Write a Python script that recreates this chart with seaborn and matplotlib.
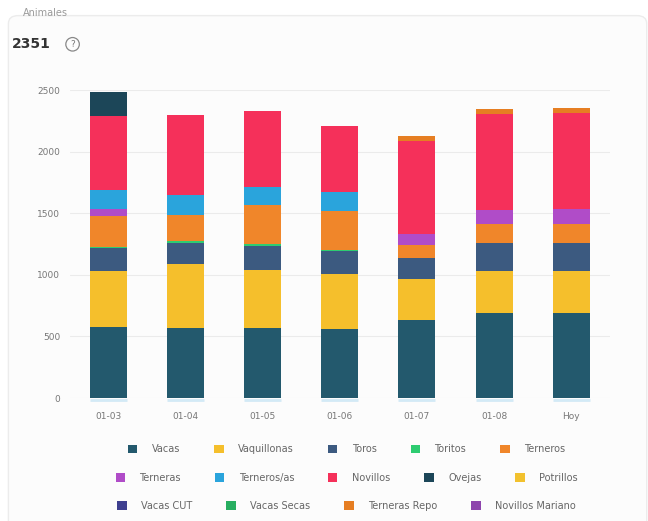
import numpy as np
import matplotlib
matplotlib.use("Agg")
import matplotlib.pyplot as plt
from matplotlib.patches import FancyBboxPatch
import seaborn as sns

sns.set_style("white")
plt.rcParams['font.family'] = ['DejaVu Sans']

dates = ["01-03", "01-04", "01-05", "01-06", "01-07", "01-08", "Hoy"]
series = ["Vacas", "Vaquillonas", "Toros", "Toritos", "Terneros",
          "Terneras", "Terneros/as", "Novillos", "Ovejas", "Potrillos",
          "Vacas CUT", "Vacas Secas", "Terneras Repo", "Novillos Mariano"]
colors = ["#23596d", "#f5bf2c", "#3c5a80", "#2ecc71", "#f0862a",
          "#b04cc8", "#2aa4dc", "#f5305a", "#1c4658", "#f2c12e",
          "#3e3f8f", "#27ae60", "#e67e22", "#8e44ad"]

vacas = [580, 570, 565, 560, 630, 690, 691]
vaquillonas = [450, 515, 475, 450, 335, 340, 340]
toros = [185, 175, 195, 180, 170, 225, 225]
toritos = [12, 12, 12, 12, 0, 0, 0]
terneros = [248, 213, 318, 313, 110, 155, 155]
terneras = [60, 0, 0, 0, 90, 120, 120]
terneros_as = [155, 160, 150, 160, 0, 0, 0]
novillos = [600, 655, 615, 530, 755, 780, 780]
ovejas = [195, 0, 0, 0, 0, 0, 0]
potrillos = [0, 0, 0, 0, 0, 0, 0]
vacas_cut = [0, 0, 0, 0, 0, 0, 0]
vacas_secas = [0, 0, 0, 0, 0, 0, 0]
terneras_repo = [0, 0, 0, 0, 40, 40, 40]
novillos_mariano = [0, 0, 0, 0, 0, 0, 0]

values = [vacas, vaquillonas, toros, toritos, terneros, terneras, terneros_as,
          novillos, ovejas, potrillos, vacas_cut, vacas_secas, terneras_repo,
          novillos_mariano]

bar_w = 0.48

fig = plt.figure(figsize=(6.48, 5.21), dpi=100)
fig.patch.set_facecolor("white")

# card background
card = FancyBboxPatch((0.013, -0.02), 0.985, 0.99, boxstyle="round,pad=0,rounding_size=0.015",
                      transform=fig.transFigure, facecolor="#fcfcfc", edgecolor="#ececec",
                      linewidth=1, zorder=-5)
fig.patches.append(card)

ax = fig.add_axes([0.108, 0.236, 0.833, 0.591])
ax.set_facecolor("none")
ax.set_zorder(2)

bottom = np.zeros(len(dates))
for name, vals, col in zip(series, values, colors):
    sns.barplot(x=dates, y=vals, bottom=bottom, color=col, saturation=1,
                width=bar_w, errorbar=None, ax=ax, linewidth=0, zorder=3)
    bottom += np.array(vals)

# light blue strip under each bar
pos = np.arange(len(dates))
ax.hlines([-12] * len(dates), pos - bar_w / 2, pos + bar_w / 2, color="#d3eaf6",
          linewidth=2, clip_on=False, zorder=2)

ax.set_xlim(-0.5, 6.5)
ax.set_ylim(0, 2500)
ax.set_yticks([0, 500, 1000, 1500, 2000, 2500])
ax.yaxis.grid(True, color="#ebebeb", linewidth=0.8, zorder=0)
ax.set_axisbelow(True)
for s in ax.spines.values():
    s.set_visible(False)
ax.tick_params(axis="both", length=0, labelsize=6.5, colors="#777777")
ax.tick_params(axis="x", pad=10)
ax.tick_params(axis="y", pad=7)
ax.set_xlabel("")
ax.set_ylabel("")

# header
fig.text(0.035, 0.975, "Animales", fontsize=7, color="#9a9a9a", va="center")
fig.text(0.018, 0.915, "2351", fontsize=10, fontweight="bold", color="#333333", va="center")
fig.text(0.112, 0.915, "?", fontsize=6.5, color="#777777", va="center", ha="center",
         bbox=dict(boxstyle="circle,pad=0.25", facecolor="none", edgecolor="#888888", linewidth=0.9))

# legend in wrapped rows
handles = [plt.Rectangle((0, 0), 1, 1, facecolor=c, edgecolor="none") for c in colors]
rows = [(0, 5, 0.138), (5, 10, 0.083), (10, 14, 0.029)]
for start, end, y in rows:
    leg = fig.legend(handles[start:end], series[start:end], loc="center",
                     bbox_to_anchor=(0.535, y), ncol=end - start, frameon=False,
                     fontsize=7, handlelength=0.95, handleheight=0.95,
                     handletextpad=1.5, columnspacing=3.5, labelcolor="#666666")

fig.savefig("out.png", dpi=100)
